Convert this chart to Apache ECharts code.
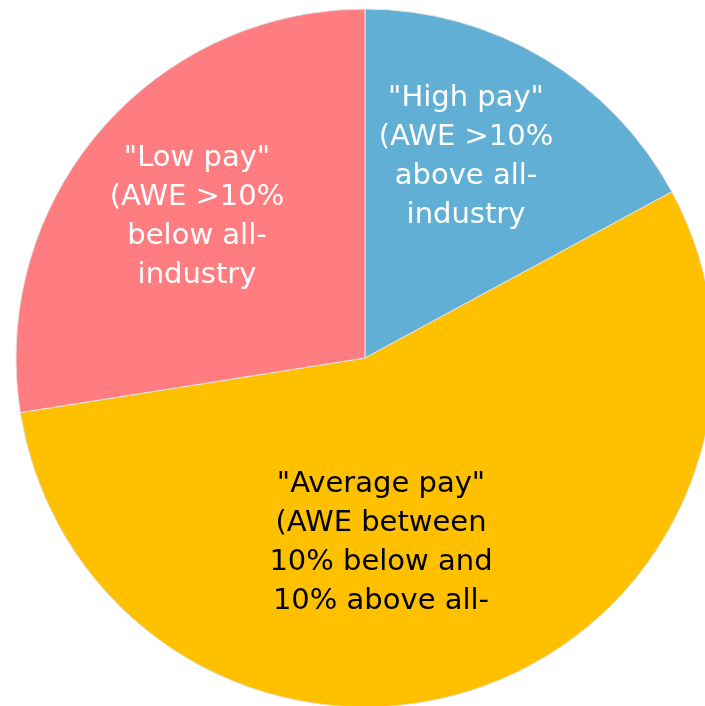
<!DOCTYPE html>
<html>
<head>
<meta charset="utf-8">
<script src="https://cdn.jsdelivr.net/npm/echarts@6/dist/echarts.min.js"></script>
<style>
html, body { margin: 0; padding: 0; background: #fff; }
#main { width: 705px; height: 706px; }
</style>
</head>
<body>
<div id="main"></div>
<script>
// slice order is clockwise from 12 o'clock
var categories = ['"High pay"\n(AWE >10%\nabove all-\nindustry', '"Average pay"\n(AWE between\n10% below and\n10% above all-', '"Low pay"\n(AWE >10%\nbelow all-\nindustry']
var shares = [17.1, 55.4, 27.5]
var colors = ['#61AFD5', '#FFC000', '#FF7C80']
var textColors = ['#ffffff', '#000000', '#ffffff']

// where each label block sits (centre, px)
var labelSpots = [[466, 157], [381, 543], [197, 217]]

var chart = echarts.init(document.getElementById('main'))

var data = categories.map(function (name, i) {
  return {
    name: name,
    value: shares[i],
    itemStyle: { color: colors[i] },
    label: { color: textColors[i] }
  }
})

chart.setOption({
  animation: false,
  series: [{
    type: 'pie',
    center: [365, 358],
    radius: 349,
    startAngle: 90,
    clockwise: true,
    avoidLabelOverlap: false,
    itemStyle: { borderColor: '#e2e2e2', borderWidth: 1 },
    label: {
      show: true,
      position: 'inside',
      formatter: '{b}',
      fontFamily: 'DejaVu Sans',
      fontSize: 29,
      lineHeight: 39,
      align: 'center'
    },
    labelLine: { show: false },
    emphasis: { disabled: true },
    labelLayout: function (p) {
      var s = labelSpots[p.dataIndex]
      return { x: s[0], y: s[1], align: 'center', verticalAlign: 'middle' }
    },
    data: data
  }]
})
</script>
</body>
</html>
